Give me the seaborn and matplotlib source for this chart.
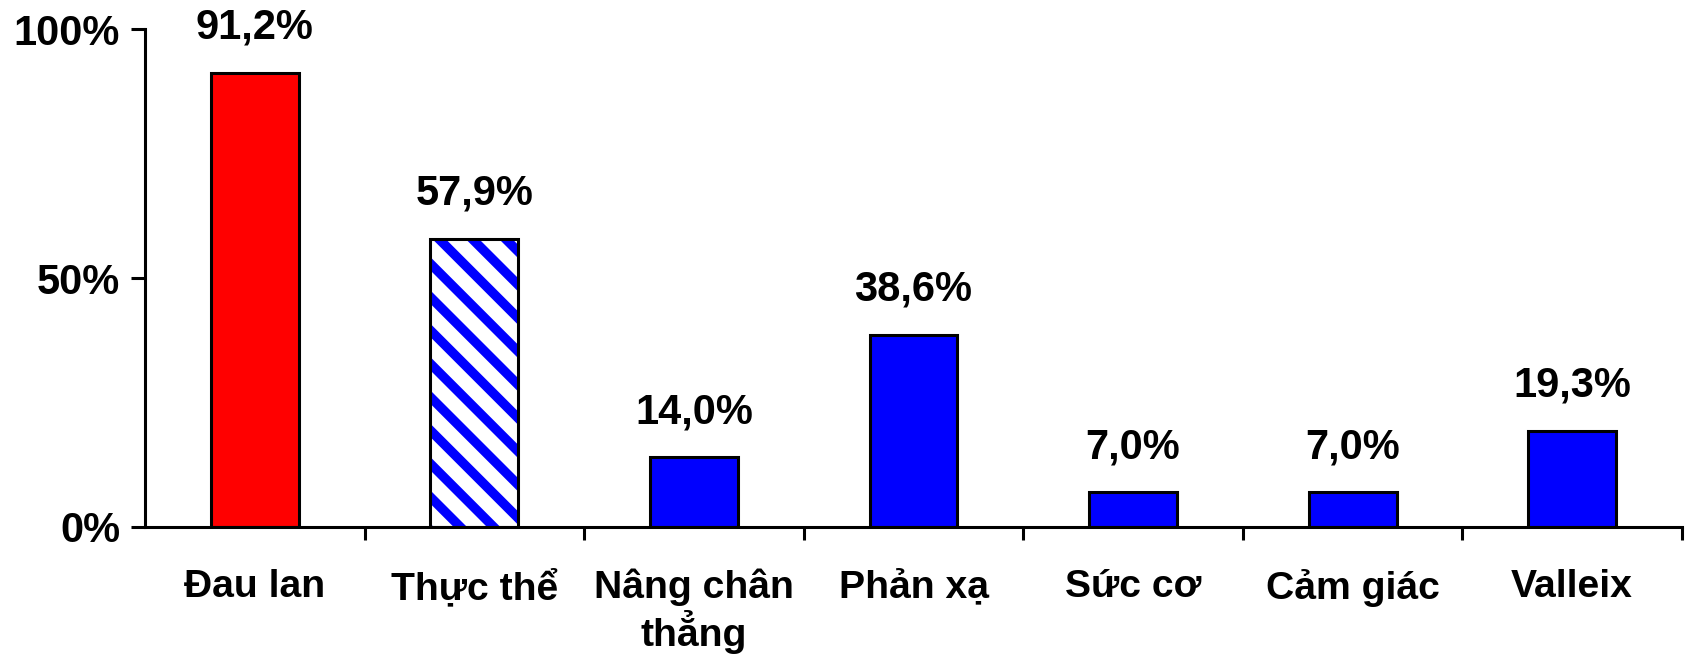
import matplotlib
matplotlib.use("Agg")
import matplotlib.pyplot as plt
import numpy as np
import seaborn as sns

categories = ["Đau lan", "Thực thể", "Nâng chân\nthẳng", "Phản xạ", "Sức cơ", "Cảm giác", "Valleix"]
values = [91.2, 57.9, 14.0, 38.6, 7.0, 7.0, 19.3]
bar_colors = ["#ff0000", "#ffffff", "#0000ff", "#0000ff", "#0000ff", "#0000ff", "#0000ff"]
value_labels = ["91,2%", "57,9%", "14,0%", "38,6%", "7,0%", "7,0%", "19,3%"]
y_ticks = [0, 50, 100]
y_tick_labels = ["0%", "50%", "100%"]

sns.set_theme(style="white")
plt.rcParams["font.family"] = ["Liberation Sans", "DejaVu Sans"]
plt.rcParams["font.weight"] = "bold"
plt.rcParams["text.color"] = "black"
plt.rcParams["xtick.color"] = "black"
plt.rcParams["ytick.color"] = "black"
plt.rcParams["hatch.linewidth"] = 3.4

# dpi 200 so the hatch stripes come out as wide as in the reference
fig = plt.figure(figsize=(8.435, 3.31), dpi=200)
ax = fig.add_axes([0.086, 0.204, 0.911, 0.752])

sns.barplot(x=categories, y=values, hue=categories, palette=bar_colors, legend=False,
            width=0.4, edgecolor="black", linewidth=1.1, saturation=1, ax=ax)

# hatched "Thực thể" bar: blue diagonal stripes on white
hatched = ax.patches[1]
hatched.set_hatch("\\\\")
if hasattr(hatched, "set_hatchcolor"):
    hatched.set_hatchcolor("#0000ff")
else:
    hatched._hatch_color = matplotlib.colors.to_rgba("#0000ff")

for i, (v, lab) in enumerate(zip(values, value_labels)):
    ax.annotate(lab, xy=(i, v), xytext=(0, 9), textcoords="offset points",
                ha="center", va="bottom", fontsize=15, fontweight="bold", color="black")

ax.set_ylim(0, 100)
ax.set_xlim(-0.5, len(categories) - 0.5)
ax.set_yticks(y_ticks)
ax.set_yticklabels(y_tick_labels, fontsize=15, fontweight="bold")
ax.tick_params(axis="y", direction="out", length=5, width=1.1, left=True, pad=4)

ax.set_xticks(range(len(categories)))
ax.set_xticklabels(categories, fontsize=14.1, fontweight="bold", linespacing=1.12)
ax.tick_params(axis="x", which="major", length=0, pad=15)
ax.set_xticks(np.arange(0.5, len(categories), 1), minor=True)
ax.tick_params(axis="x", which="minor", direction="out", length=4.5, width=1.1, bottom=True)

ax.set_xlabel("")
ax.set_ylabel("")
for s in ["top", "right"]:
    ax.spines[s].set_visible(False)
for s in ["left", "bottom"]:
    ax.spines[s].set_color("black")
    ax.spines[s].set_linewidth(1.1)

fig.savefig("out.png", dpi=200)
